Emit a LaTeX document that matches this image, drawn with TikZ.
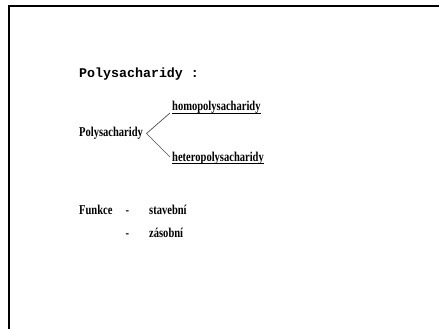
\documentclass[tikz,border=0pt]{standalone}
\usepackage{fontspec}
\setmainfont{Liberation Serif}
\newfontfamily\slidemono{Liberation Mono}
\newfontfamily\slidecond[FakeStretch=0.78]{Liberation Serif}
\tikzset{
  frameline/.style={line width=2pt, line cap=rect},
  title/.style={anchor=base west, inner sep=0pt, font=\slidemono\bfseries\fontsize{13.3}{15}\selectfont},
  label/.style={anchor=base west, inner sep=0pt, font=\slidecond\bfseries\fontsize{13.5}{16}\selectfont},
  branch/.style={line width=0.7pt, gray!60!black},
  uline/.style={line width=1.1pt}
}
\begin{document}
\begin{tikzpicture}[x=1pt, y=-1pt]
  \useasboundingbox (0,0) rectangle (439,329);
  % slide frame: top and left edges
  \coordinate (ftl) at (9,6);
  \coordinate (ftr) at (439,6);
  \coordinate (fbl) at (9,329);
  \draw[frameline] (ftr) -- (ftl) -- (fbl);

  \node[title] (head) at (79,77.5) {Polysacharidy :};

  \node[label] (root) at (79,136.5) {Polysacharidy};
  \node[label] (homo) at (172,110.5) {homopolysacharidy};
  \node[label] (hetero) at (172,161) {heteropolysacharidy};

  % underlines just below the descenders
  \draw[uline] ([yshift=-2.8pt]homo.base west) -- ([yshift=-2.8pt]homo.base east);
  \draw[uline] ([yshift=-2.8pt]hetero.base west) -- ([yshift=-2.8pt]hetero.base east);

  % branching lines
  \coordinate (fork) at (146.5,133.5);
  \coordinate (homoend) at (170,113);
  \coordinate (heteroend) at (170,157);
  \draw[branch] (homoend) -- (fork) -- (heteroend);

  \node[label] (funkce) at (79,214) {Funkce};
  \node[label] (dash1) at (125.5,214) {-};
  \node[label] (stav) at (149,214) {stavební};
  \node[label] (dash2) at (125.5,237) {-};
  \node[label] (zas) at (149,237) {zásobní};
\end{tikzpicture}
\end{document}
